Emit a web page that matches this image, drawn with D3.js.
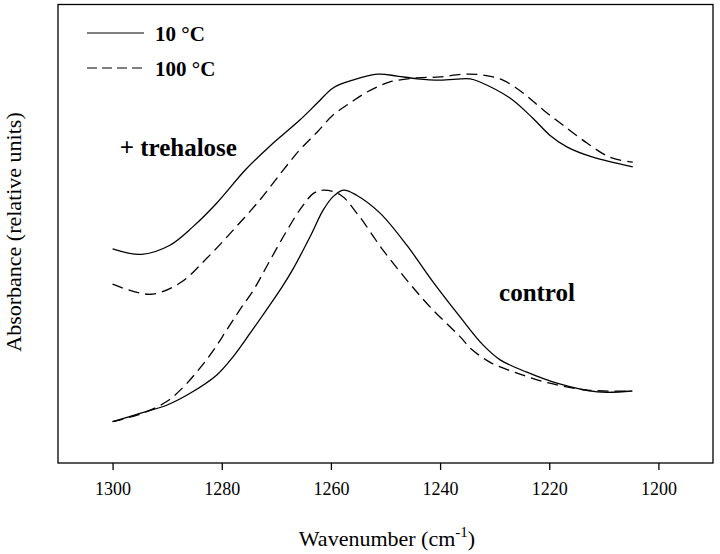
<!DOCTYPE html>
<html>
<head>
<meta charset="utf-8">
<script src="https://cdn.jsdelivr.net/npm/d3@7"></script>
<style>
  html, body { margin: 0; padding: 0; background: #fff; }
  svg { display: block; }
  svg text { font-family: "Liberation Serif", "Times New Roman", Times, "DejaVu Serif", serif !important; fill: #000; }
</style>
</head>
<body>
<svg id="chart" width="720" height="554"></svg>
<script>
// ---- Data (wavenumber in cm^-1, absorbance in relative units) ----
const trehalose10 = [
  [1300.0,0.467],[1294.7,0.455],[1289.5,0.475],[1285.3,0.515],[1280.9,0.567],
  [1275.7,0.639],[1271.2,0.691],[1265.7,0.748],[1262.5,0.785],[1259.6,0.818],
  [1256.0,0.835],[1251.4,0.848],[1247.9,0.844],[1244.2,0.838],[1240.0,0.835],
  [1234.5,0.838],[1232.7,0.831],[1227.2,0.796],[1223.0,0.752],[1219.9,0.715],
  [1216.7,0.689],[1212.0,0.667],[1204.7,0.646]
];
const trehalose100 = [
  [1300.0,0.390],[1293.1,0.368],[1287.6,0.393],[1282.7,0.447],[1277.9,0.508],
  [1273.0,0.574],[1269.0,0.635],[1265.7,0.683],[1262.5,0.722],[1259.6,0.759],
  [1256.5,0.785],[1253.4,0.809],[1249.2,0.831],[1244.2,0.840],[1240.0,0.842],
  [1235.8,0.848],[1232.1,0.846],[1228.5,0.835],[1224.8,0.807],[1221.1,0.770],
  [1217.5,0.737],[1213.1,0.698],[1208.9,0.667],[1204.7,0.656]
];
const control10 = [
  [1300.0,0.090],[1295.0,0.108],[1290.1,0.126],[1285.8,0.152],[1280.9,0.192],
  [1277.9,0.232],[1274.8,0.283],[1271.8,0.334],[1269.0,0.383],[1266.9,0.424],
  [1263.8,0.494],[1261.4,0.552],[1259.6,0.581],[1257.7,0.595],[1255.3,0.584],
  [1251.0,0.545],[1246.1,0.475],[1241.3,0.395],[1236.3,0.318],[1232.1,0.257],
  [1229.0,0.225],[1224.1,0.198],[1218.6,0.174],[1211.2,0.155],[1204.8,0.157]
];
const control100 = [
  [1300.0,0.090],[1294.4,0.109],[1290.1,0.134],[1287.0,0.166],[1284.0,0.207],
  [1281.5,0.246],[1279.1,0.290],[1276.7,0.334],[1274.2,0.377],[1271.8,0.428],
  [1268.7,0.494],[1265.7,0.552],[1263.2,0.588],[1261.4,0.595],[1258.3,0.585],
  [1255.0,0.541],[1250.5,0.465],[1246.1,0.399],[1241.8,0.340],[1236.3,0.275],
  [1234.5,0.251],[1230.9,0.220],[1225.9,0.196],[1219.9,0.174],[1213.1,0.159],
  [1204.8,0.157]
];
const xTicks = [1300, 1280, 1260, 1240, 1220, 1200];
const legendLabels = ["10 \u00B0C", "100 \u00B0C"];
const annotations = [
  { text: "+ trehalose", wn: 1298.7, a: 0.669 },
  { text: "control", wn: 1229.2, a: 0.354 }
];

// ---- Layout ----
const FONT = '"Liberation Serif", "Times New Roman", Times, "DejaVu Serif", serif';
const svg = d3.select("#chart");
const L = 58, R = 713, T = 4.5, B = 463;
const x = d3.scaleLinear().domain([1310, 1190]).range([L, R]);
const y = d3.scaleLinear().domain([0, 1]).range([B, T]);

// axis
const xAxis = d3.axisBottom(x).tickValues(xTicks).tickSize(7).tickPadding(12)
  .tickFormat(d3.format("d"));
const gx = svg.append("g").attr("transform", `translate(0,${B})`).call(xAxis)
  .attr("font-family", FONT);
gx.select(".domain").remove();
gx.selectAll(".tick line").attr("stroke", "#000").attr("stroke-width", 1.3);
gx.selectAll(".tick text")
  .attr("font-size", 18).attr("dy", null).attr("y", 32);

// frame
svg.append("rect").attr("x", L).attr("y", T).attr("width", R - L).attr("height", B - T)
  .attr("fill", "none").attr("stroke", "#000").attr("stroke-width", 1.3);

// lines
const line = d3.line().x(d => x(d[0])).y(d => y(d[1])).curve(d3.curveCatmullRom.alpha(0.5));
const series = [
  { data: trehalose10, dash: null },
  { data: trehalose100, dash: "11,6" },
  { data: control10, dash: null },
  { data: control100, dash: "11,6" }
];
svg.append("g").selectAll("path").data(series).join("path")
  .attr("d", d => line(d.data))
  .attr("fill", "none").attr("stroke", "#000").attr("stroke-width", 1.3)
  .attr("stroke-dasharray", d => d.dash);

// legend
const lg = svg.append("g");
legendLabels.forEach((lab, i) => {
  const yy = 33 + i * 35;
  lg.append("line").attr("x1", 87).attr("x2", 144).attr("y1", yy).attr("y2", yy)
    .attr("stroke", "#000").attr("stroke-width", 1.2)
    .attr("stroke-dasharray", i === 1 ? "10,5" : null);
  lg.append("text").attr("x", 155).attr("y", yy + 8).attr("font-family", FONT)
    .attr("font-size", 21).attr("font-weight", "bold").text(lab);
});

// annotations
svg.append("g").selectAll("text").data(annotations).join("text")
  .attr("x", d => x(d.wn)).attr("y", d => y(d.a)).attr("font-family", FONT)
  .attr("font-size", 25).attr("font-weight", "bold").text(d => d.text);

// axis titles
const xt = svg.append("text").attr("x", 387).attr("y", 546).attr("font-family", FONT)
  .attr("text-anchor", "middle").attr("font-size", 22);
xt.append("tspan").text("Wavenumber (cm");
xt.append("tspan").attr("font-size", 15).attr("dy", -9).text("-1");
xt.append("tspan").attr("dy", 9).text(")");

svg.append("text").attr("transform", "translate(21,232) rotate(-90)").attr("font-family", FONT)
  .attr("text-anchor", "middle").attr("font-size", 22)
  .text("Absorbance (relative units)");
</script>
</body>
</html>
